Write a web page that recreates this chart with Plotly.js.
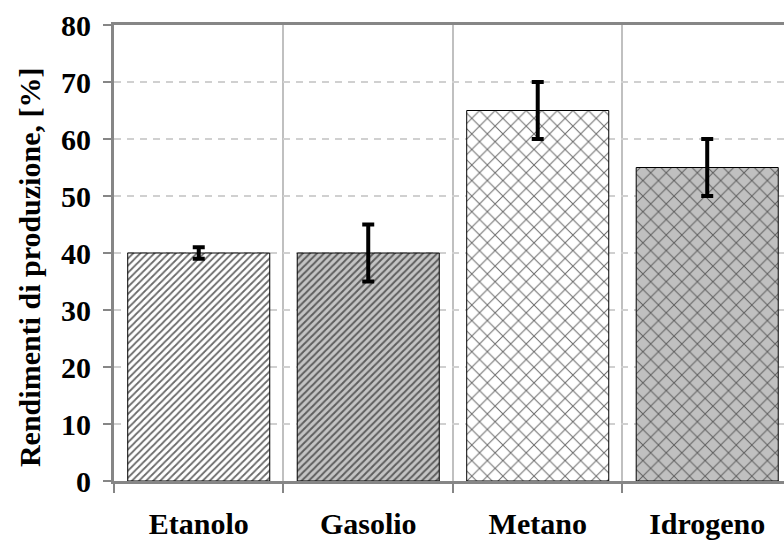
<!DOCTYPE html>
<html>
<head>
<meta charset="utf-8">
<script src="https://cdn.plot.ly/plotly-3.0.1.min.js"></script>
<style>html,body{margin:0;padding:0;background:#fff;}#chart{width:784px;height:544px;}</style>
</head>
<body>
<div id="chart"></div>
<script>
const categories = ['Etanolo', 'Gasolio', 'Metano', 'Idrogeno'];
const values = [40, 40, 65, 55];
const errors = [1, 5, 5, 5];
const yTickValues = [0, 10, 20, 30, 40, 50, 60, 70, 80];
const yTitle = 'Rendimenti di produzione, [%]';

const fam = '"Liberation Serif", "Times New Roman", serif';

const trace = {
  type: 'bar',
  x: categories,
  y: values,
  error_y: {type: 'data', array: errors, visible: true, color: '#000', thickness: 4, width: 6},
  marker: {
    color: ['#ffffff', '#c4c4c4', '#ffffff', '#c0c0c0'],
    line: {color: '#000', width: 1},
    pattern: {
      shape: ['/', '/', 'x', 'x'],
      fillmode: 'overlay',
      fgcolor: ['#000000', '#000000', '#000000', '#000000'],
      fgopacity: 0.8,
      size: [5, 5, 11, 11],
      solidity: [0.35, 0.4, 0.17, 0.17]
    }
  },
  hoverinfo: 'none'
};

const layout = {
  width: 784, height: 544,
  margin: {l: 114, r: 0, t: 25, b: 63},
  paper_bgcolor: '#fff', plot_bgcolor: '#fff',
  font: {family: fam, size: 30, color: '#000'},
  showlegend: false,
  bargap: 0.162,
  xaxis: {
    type: 'category',
    range: [-0.5, 3.453],
    tickson: 'boundaries',
    ticks: 'outside', ticklen: 9, tickwidth: 2, tickcolor: '#868686',
    showline: true, linecolor: '#868686', linewidth: 3, mirror: true,
    showgrid: true, gridcolor: '#c0c0c0', gridwidth: 2,
    tickfont: {family: fam, size: 30, color: '#000', weight: 'bold'},
    ticklabelstandoff: 14,
    zeroline: false
  },
  yaxis: {
    range: [0, 80],
    tickvals: yTickValues,
    ticktext: yTickValues.map(String),
    ticks: 'outside', ticklen: 8, tickwidth: 2, tickcolor: '#868686',
    showline: true, linecolor: '#868686', linewidth: 3,
    showgrid: true, gridcolor: '#d0d0d0', gridwidth: 1.5, griddash: '7px,6px',
    zeroline: false,
    tickfont: {family: fam, size: 30, color: '#000', weight: 'bold'},
    ticklabelstandoff: 6
  },
  annotations: [{
    text: yTitle, textangle: -90, showarrow: false,
    xref: 'paper', x: 0, xanchor: 'center', xshift: -85,
    yref: 'paper', y: 0.467, yanchor: 'middle',
    font: {family: fam, size: 30, color: '#000', weight: 'bold'}
  }]
};

Plotly.newPlot('chart', [trace], layout, {displayModeBar: false, staticPlot: true});
</script>
</body>
</html>
